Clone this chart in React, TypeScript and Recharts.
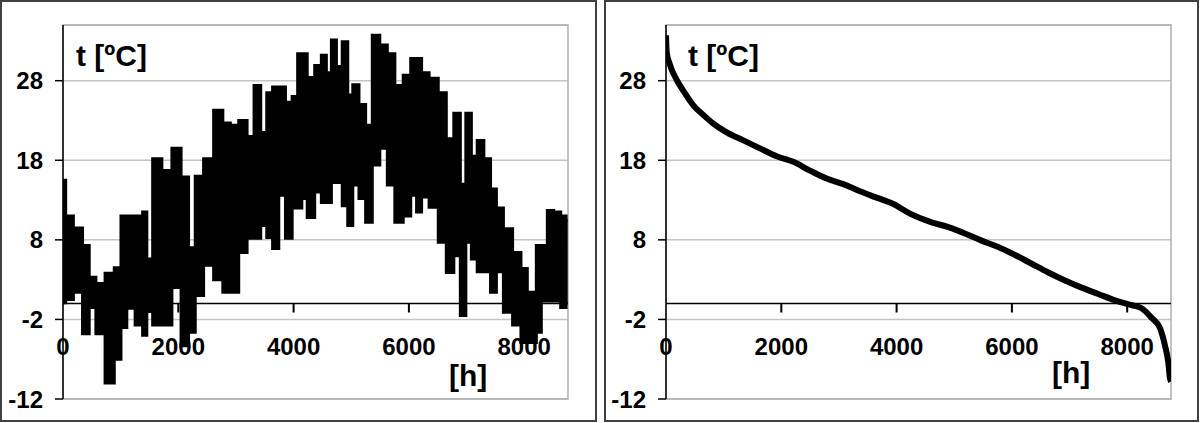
import React from 'react';
import {
  ComposedChart,
  Area,
  Line,
  XAxis,
  YAxis,
  CartesianGrid,
  ReferenceLine,
  ReferenceArea,
  ReferenceDot,
} from 'recharts';

// hourly temperature over the year, read as an upper / lower envelope
const HOURS_RAW = [
  0, 93, 267, 411, 498, 643, 817, 962, 1049, 1165, 1338, 1425, 1483, 1628, 1802, 1976, 2120, 2236, 2352, 2526,
  2700, 2845, 2961, 3135, 3251, 3378, 3482, 3587, 3685, 3801, 3917, 4033, 4108, 4178, 4294, 4438, 4525, 4612,
  4699, 4786, 4902, 4977, 5076, 5192, 5307, 5423, 5568, 5684, 5829, 5974, 6090, 6177, 6264, 6437, 6582, 6716,
  6843, 6942, 7034, 7133, 7237, 7364, 7469, 7567, 7712, 7886, 8002, 8106, 8176, 8245, 8349, 8454, 8570, 8697, 8755,
];
const T_MAX = [
  15.5, 11, 9.5, 7.3, 3.3, 2.5, 3.8, 4.5, 11, 11, 11, 11.5, 5.6, 18.2, 16.7, 19.5, 15.9, 7, 16, 18.2,
  24.3, 22.7, 22.4, 23, 21, 27.4, 21.5, 26.5, 27.2, 27.2, 25.3, 26, 31.4, 31.4, 28.4, 29.9, 31.2, 29,
  33.1, 29.8, 32.9, 26.2, 27.5, 25, 22.4, 33.7, 32.5, 31.4, 27.4, 28.7, 30.8, 30.8, 29, 28.3, 26.5, 20.7,
  23.9, 15, 23.9, 18.5, 20.5, 18.2, 14.4, 12, 9.4, 6.4, 4.4, 1.4, 1.4, 7.3, 7.3, 11.7, 11.5, 11, 10.5,
];
const T_MIN = [
  0.1, 0.5, 1.4, -3.8, -0.5, -3.8, -10, -7, -3, -0.6, -2.7, -4, -1, -2.7, -2.7, 2, -5.3, -3.6, 1, 4.8,
  3, 1.4, 1.4, 6.4, 8.2, 8.2, 9.8, 8.3, 6.9, 13.6, 8.2, 12, 12, 13.2, 10.8, 14, 12.7, 12.7,
  15.2, 15.2, 12.3, 9.8, 14.9, 13.2, 10.2, 17.4, 19.5, 14.9, 10.2, 11, 13.6, 11.5, 13.4, 12.1, 7.7, 3.9,
  6, -1.5, 7.7, 5.6, 4, 4, 1.4, 4, -1.1, -2.7, -4.9, -4.9, -4.9, -3.6, 0.3, 0.3, 0.3, -0.5, 0,
];

// same temperatures sorted (duration curve)
const HOURS_SORTED = [
  0, 12, 69, 185, 330, 474, 647, 821, 1052, 1342, 1630, 1920, 2209, 2498, 2787, 3076, 3365, 3654, 3943, 4233,
  4608, 4897, 5186, 5475, 5765, 6054, 6343, 6632, 6921, 7210, 7499, 7788, 8077, 8251, 8424, 8569, 8656, 8713,
  8742, 8760,
];
const T_SORTED = [
  33.7, 31.6, 30, 28.1, 26.4, 24.9, 23.7, 22.6, 21.5, 20.5, 19.5, 18.5, 17.8, 16.7, 15.7, 15, 14.1, 13.3, 12.5, 11.3,
  10.2, 9.6, 8.8, 7.9, 7.1, 6.1, 5, 3.9, 2.9, 2, 1.2, 0.4, -0.2, -0.6, -1.8, -3.1, -5.3, -7.4,
  -9.4, -9.8,
];

const X_TICKS = [0, 2000, 4000, 6000, 8000];
const Y_TICKS = [-12, -2, 8, 18, 28];
const Y_TITLE = 't [ºC]';
const X_TITLE = '[h]';

const rawData = HOURS_RAW.map((h, i) => ({ h, band: [T_MIN[i], T_MAX[i]] }));
const sortedData = HOURS_SORTED.map((h, i) => ({ h, t: T_SORTED[i] }));

const CHART_H = 423;
const FONT = '"Liberation Sans", Arial, sans-serif';
const txt = { fontFamily: FONT, fontWeight: 'bold' as const, fill: '#000' };

function XTick(props: any) {
  const { x, y, payload } = props;
  return (
    <text x={x} y={y - 44} textAnchor="middle" fontSize={24} {...txt}>
      {payload.value}
    </text>
  );
}

// short mark hanging below the zero line
function TickMark(props: any) {
  const { cx, cy } = props;
  if (cx == null || cy == null) return null;
  return <rect x={cx - 1} y={cy} width={2} height={9} fill="#000" />;
}

function Panel(props: {
  left: number;
  width: number;
  axisWidth: number;
  right: number;
  titleX: number;
  hX: number;
  hY: number;
  data: any[];
  children: React.ReactNode;
}) {
  return (
    <div style={{ position: 'absolute', left: props.left, top: 0, width: props.width, height: CHART_H }}>
      <div
        style={{
          position: 'absolute',
          left: 0,
          top: 0,
          width: props.width,
          height: 422,
          border: '2px solid #404040',
          boxSizing: 'border-box',
        }}
      />
      <div style={{ position: 'absolute', left: 0, top: 0 }}>
        <ComposedChart
          width={props.width}
          height={CHART_H}
          data={props.data}
          margin={{ top: 25, right: props.right, bottom: 0, left: 0 }}
        >
          <CartesianGrid horizontal vertical={false} stroke="#c4c4c4" strokeWidth={1.5} />
          <ReferenceArea x1={0} x2={8760} y1={-12} y2={35} fill="none" stroke="#b0b0b0" strokeWidth={1.5} />
          <XAxis
            dataKey="h"
            type="number"
            domain={[0, 8760]}
            ticks={X_TICKS}
            interval={0}
            allowDataOverflow
            axisLine={false}
            tickLine={false}
            tickSize={0}
            tickMargin={0}
            height={24}
            tick={<XTick />}
          />
          <YAxis
            type="number"
            domain={[-12, 35]}
            ticks={Y_TICKS}
            interval={0}
            allowDataOverflow
            width={props.axisWidth}
            axisLine={{ stroke: '#000', strokeWidth: 1.5 }}
            tickLine={{ stroke: '#000', strokeWidth: 1.5 }}
            tickSize={8}
            tickMargin={12}
            tick={{ fontSize: 24, ...txt }}
          />
          {props.children}
          <ReferenceLine y={0} stroke="#000" strokeWidth={1.5} />
          {X_TICKS.slice(1).map((v) => (
            <ReferenceDot key={v} x={v} y={0} r={1} ifOverflow="visible" shape={<TickMark />} />
          ))}
        </ComposedChart>
      </div>
      <svg
        width={props.width}
        height={CHART_H}
        style={{ position: 'absolute', left: 0, top: 0, pointerEvents: 'none' }}
      >
        <text x={props.titleX} y={66} fontSize={30} {...txt}>
          {Y_TITLE}
        </text>
        <text x={props.hX} y={props.hY} fontSize={30} {...txt}>
          {X_TITLE}
        </text>
      </svg>
    </div>
  );
}

export default function App() {
  return (
    <div style={{ position: 'absolute', left: 0, top: 0, width: 1200, height: CHART_H, background: '#fff' }}>
      <Panel left={0} width={597} axisWidth={63} right={29} titleX={76} hX={449} hY={386} data={rawData}>
        <Area
          dataKey="band"
          type="step"
          stroke="#000"
          strokeWidth={3}
          fill="#000"
          fillOpacity={1}
          isAnimationActive={false}
        />
      </Panel>
      <Panel left={604} width={595} axisWidth={62} right={28} titleX={84} hX={448} hY={383} data={sortedData}>
        <Line
          dataKey="t"
          type="monotone"
          stroke="#000"
          strokeWidth={6}
          dot={false}
          isAnimationActive={false}
        />
      </Panel>
    </div>
  );
}
